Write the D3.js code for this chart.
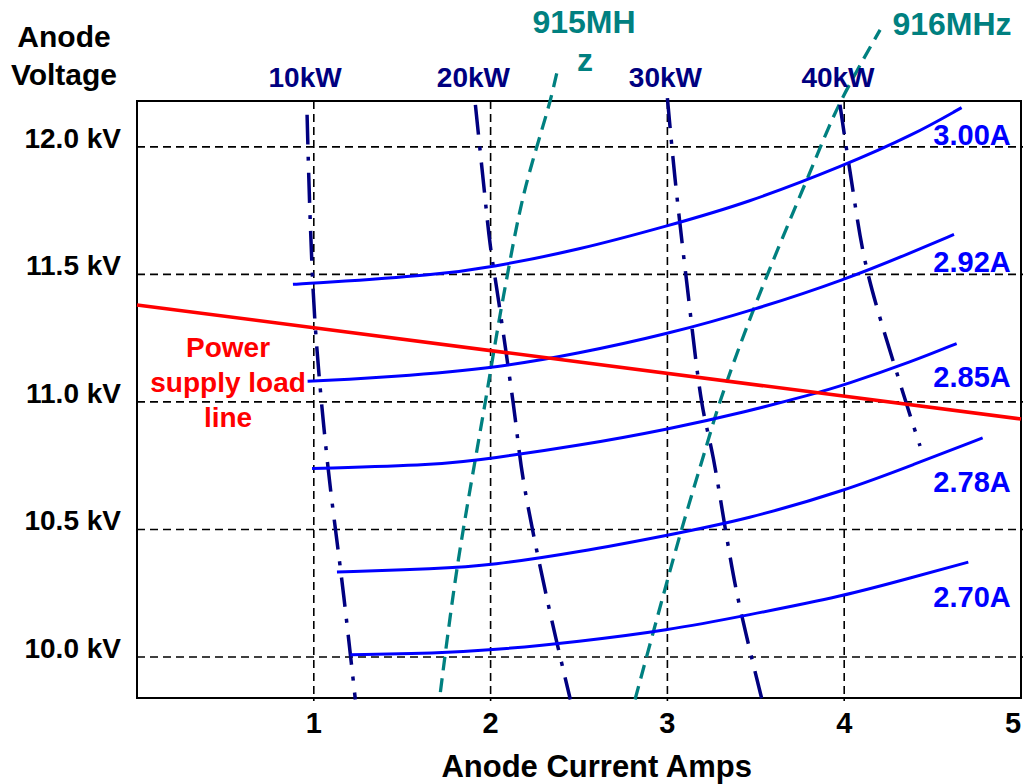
<!DOCTYPE html>
<html>
<head>
<title>Anode voltage vs current</title>
<style>
body { margin: 0; background: #fff; }
text {
    font-family: "Liberation Sans", Arial, sans-serif;
    font-weight: bold;
}
.grid line {
    stroke: black;
    stroke-width: 1.6;
    stroke-dasharray: 8,5;
}
</style>
</head>
<body>
<div id="chart"></div>
<script src="https://cdn.jsdelivr.net/npm/d3@7"></script>
<script>
    // axis ticks
    var xTicks = [1, 2, 3, 4, 5];
    var yTicks = [10.0, 10.5, 11.0, 11.5, 12.0];
    var yTickLabels = ["10.0 kV", "10.5 kV", "11.0 kV", "11.5 kV", "12.0 kV"];

    // constant anode current curves [amps, kV]
    var amps300 = [[0.882, 11.461], [1.0, 11.465], [1.697, 11.498], [2.0, 11.528], [2.5, 11.596], [3.0, 11.690], [3.448, 11.779], [4.0, 11.927], [4.391, 12.047], [4.664, 12.154]];
    var amps292 = [[0.965, 11.081], [1.32, 11.092], [2.0, 11.129], [2.5, 11.19], [3.0, 11.266], [3.486, 11.36], [4.0, 11.478], [4.391, 11.589], [4.621, 11.657]];
    var amps285 = [[0.99, 10.739], [1.697, 10.752], [2.0, 10.778], [2.5, 10.829], [3.0, 10.892], [3.448, 10.962], [3.82, 11.03], [4.0, 11.066], [4.391, 11.16], [4.636, 11.229]];
    var amps278 = [[1.131, 10.333], [1.697, 10.346], [2.0, 10.359], [2.5, 10.411], [3.0, 10.477], [3.448, 10.540], [4.0, 10.651], [4.391, 10.754], [4.783, 10.859]];
    var amps270 = [[1.207, 10.009], [1.697, 10.015], [2.0, 10.026], [2.5, 10.06], [3.0, 10.104], [3.448, 10.163], [4.0, 10.239], [4.391, 10.313], [4.702, 10.372]];
    var ampNames = ["3.00A", "2.92A", "2.85A", "2.78A", "2.70A"];
    var ampLabelV = [12.008, 11.510, 11.059, 10.647, 10.197];

    // power supply load line
    var loadLine = [[0, 11.38], [5, 10.933]];
    var loadLabel = ["Power", "supply load", "line"];

    // constant output power lines
    var kw10 = [[0.962, 12.126], [0.98, 11.707], [1.008, 11.30], [1.075, 10.778], [1.169, 10.241], [1.235, 9.833]];
    var kw20 = [[1.914, 12.165], [1.961, 11.851], [1.998, 11.615], [2.046, 11.393], [2.127, 11.0], [2.187, 10.686], [2.319, 10.228], [2.451, 9.833]];
    var kw30 = [[3.0, 12.191], [3.043, 11.877], [3.109, 11.471], [3.194, 11.0], [3.26, 10.778], [3.392, 10.254], [3.533, 9.838]];
    var kw40 = [[3.976, 12.165], [4.033, 11.903], [4.127, 11.524], [4.325, 11.053], [4.429, 10.827]];
    var kwNames = ["10kW", "20kW", "30kW", "40kW"];

    // constant frequency lines
    var mhz915 = [[1.716, 9.862], [1.81, 10.346], [1.97, 11.0], [2.074, 11.419], [2.187, 11.812], [2.338, 12.184], [2.376, 12.294]];
    var mhz916 = [[2.817, 9.833], [2.92, 10.097], [3.071, 10.477], [3.222, 10.83], [3.297, 11.0], [3.486, 11.36], [3.788, 11.87], [3.976, 12.172], [4.203, 12.459]];

    var dimensions = { width: 1024, height: 784 };
    var margins = { top: 101, right: 3, bottom: 86, left: 137 };
    var pw = dimensions.width - margins.left - margins.right;
    var ph = dimensions.height - margins.top - margins.bottom;

    var xscale = d3.scaleLinear().domain([0, 5]).range([0, pw]);
    var yscale = d3.scaleLinear().domain([9.839, 12.18]).range([ph, 0]);

    var svg = d3.select("#chart")
        .append("svg")
        .attr("width", dimensions.width)
        .attr("height", dimensions.height);

    var g = svg.append("g")
        .attr("transform", "translate(" + margins.left + "," + margins.top + ")");

    // grid
    var grid = g.append("g").attr("class", "grid");
    grid.selectAll("line.h")
        .data(yTicks)
        .enter().append("line")
        .attr("class", "h")
        .attr("x1", 0).attr("x2", pw + 2)
        .attr("y1", function(d) { return yscale(d); })
        .attr("y2", function(d) { return yscale(d); });
    grid.selectAll("line.v")
        .data(xTicks.slice(0, 4))
        .enter().append("line")
        .attr("class", "v")
        .attr("y1", 0).attr("y2", ph + 3)
        .attr("x1", function(d) { return xscale(d); })
        .attr("x2", function(d) { return xscale(d); });

    // frame
    g.append("rect")
        .attr("width", pw).attr("height", ph)
        .attr("fill", "none")
        .attr("stroke", "black")
        .attr("stroke-width", 2);

    // tick labels
    g.selectAll("text.ylab")
        .data(yTicks)
        .enter().append("text")
        .attr("class", "ylab")
        .attr("x", -16)
        .attr("y", function(d) { return yscale(d) + 1; })
        .attr("text-anchor", "end")
        .attr("font-size", 28)
        .text(function(d, i) { return yTickLabels[i]; });
    g.selectAll("text.xlab")
        .data(xTicks)
        .enter().append("text")
        .attr("class", "xlab")
        .attr("x", function(d) { return Math.min(xscale(d), pw - 8); })
        .attr("y", ph + 35)
        .attr("text-anchor", "middle")
        .attr("font-size", 29)
        .text(function(d) { return d; });

    svg.append("text")
        .attr("x", margins.left + xscale(2.6))
        .attr("y", 777)
        .attr("text-anchor", "middle")
        .attr("font-size", 31)
        .text("Anode Current Amps");
    var ytitle = svg.append("text")
        .attr("text-anchor", "middle")
        .attr("font-size", 30);
    ytitle.append("tspan").attr("x", 64).attr("y", 47).text("Anode");
    ytitle.append("tspan").attr("x", 64).attr("y", 85).text("Voltage");

    var line = d3.line()
        .x(function(d) { return xscale(d[0]); })
        .y(function(d) { return yscale(d[1]); })
        .curve(d3.curveCatmullRom.alpha(0.5));

    // frequency lines
    [mhz915, mhz916].forEach(function(s) {
        g.append("path")
            .attr("d", line(s))
            .attr("fill", "none")
            .attr("stroke", "#008080")
            .attr("stroke-width", 3.3)
            .attr("stroke-dasharray", "14,8");
    });

    // power lines
    [kw10, kw20, kw30, kw40].forEach(function(s, i) {
        g.append("path")
            .attr("d", line(s))
            .attr("fill", "none")
            .attr("stroke", "#000080")
            .attr("stroke-width", 3.5)
            .attr("stroke-dasharray", "30,12,4,12");
        g.append("text")
            .attr("x", xscale(s[0][0]) - 2)
            .attr("y", -14)
            .attr("text-anchor", "middle")
            .attr("font-size", 28)
            .attr("fill", "#000080")
            .text(kwNames[i]);
    });

    // current curves
    var smooth = d3.line()
        .x(function(d) { return xscale(d[0]); })
        .y(function(d) { return yscale(d[1]); })
        .curve(d3.curveBasis);
    [amps300, amps292, amps285, amps278, amps270].forEach(function(s, i) {
        g.append("path")
            .attr("d", smooth(s))
            .attr("fill", "none")
            .attr("stroke", "#0000ff")
            .attr("stroke-width", 3);
        g.append("text")
            .attr("x", xscale(4.723))
            .attr("y", yscale(ampLabelV[i]))
            .attr("text-anchor", "middle")
            .attr("font-size", 29)
            .attr("fill", "#0000ff")
            .text(ampNames[i]);
    });

    // load line
    g.append("path")
        .attr("d", smooth(loadLine))
        .attr("fill", "none")
        .attr("stroke", "#ff0000")
        .attr("stroke-width", 3.5);
    g.selectAll("text.load")
        .data(loadLabel)
        .enter().append("text")
        .attr("class", "load")
        .attr("x", xscale(0.515))
        .attr("y", function(d, i) { return yscale(11.176) + i * 35; })
        .attr("text-anchor", "middle")
        .attr("font-size", 28)
        .attr("fill", "#ff0000")
        .text(function(d) { return d; });

    // frequency labels
    var teal = svg.append("g")
        .attr("fill", "#008080")
        .attr("font-size", 32)
        .attr("text-anchor", "middle");
    teal.append("text").attr("x", 584).attr("y", 33).text("915MH");
    teal.append("text").attr("x", 585).attr("y", 71).text("z");
    teal.append("text").attr("x", 952).attr("y", 35).text("916MHz");
</script>
</body>
</html>
